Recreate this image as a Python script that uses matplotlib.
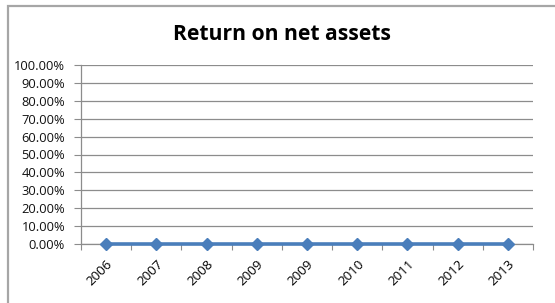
import matplotlib
matplotlib.use("Agg")
import matplotlib.pyplot as plt
from matplotlib.ticker import FixedLocator, PercentFormatter
from matplotlib.patches import Rectangle
from matplotlib.transforms import ScaledTranslation

categories = ["2006", "2007", "2008", "2009", "2009", "2010", "2011", "2012", "2013"]
values = [0.0, 0.0, 0.0, 0.0, 0.0, 0.0, 0.0, 0.0, 0.0]
y_ticks = [0.0, 0.1, 0.2, 0.3, 0.4, 0.5, 0.6, 0.7, 0.8, 0.9, 1.0]
title = "Return on net assets"

W, H = 555, 303
fig = plt.figure(figsize=(W / 100, H / 100), dpi=100)
fig.patch.set_facecolor("white")

# outer chart frame
fig.patches.append(Rectangle((7.5 / W, -0.1), 1.2, (H - 5.5) / H + 0.1,
                             transform=fig.transFigure, fill=False,
                             edgecolor="#a6a6a6", linewidth=1.6))

left, right, top, bottom = 81, 533, 65, 244
ax = fig.add_axes([left / W, 1 - bottom / H, (right - left) / W, (bottom - top) / H])

x = list(range(len(categories)))
ax.plot(x, values, color="#4A7EBB", linewidth=2.6, marker="D", markersize=6.5,
        markerfacecolor="#4A7EBB", markeredgecolor="#4A7EBB", zorder=5, clip_on=False)

ax.set_xlim(-0.5, len(categories) - 0.5)
ax.set_ylim(0, 1.0)
ax.set_yticks(y_ticks)
ax.yaxis.set_major_formatter(PercentFormatter(1.0, decimals=2))
ax.grid(axis="y", color="#8c8c8c", linewidth=0.9)
ax.set_axisbelow(True)

ax.xaxis.set_major_locator(FixedLocator([i - 0.5 for i in range(len(categories) + 1)]))
ax.set_xticklabels([])
ax.xaxis.set_minor_locator(FixedLocator(x))
ax.set_xticklabels(categories, minor=True, rotation=45, ha="right",
                   rotation_mode="anchor", fontsize=9.6, family="Open Sans")
shift = ScaledTranslation(-3 / 100, 0, fig.dpi_scale_trans)
for lab in ax.get_xticklabels(minor=True):
    lab.set_transform(lab.get_transform() + shift)
ax.tick_params(axis="x", which="minor", length=0, pad=10)
ax.tick_params(axis="x", which="major", length=4, color="#8c8c8c", direction="out")
ax.tick_params(axis="y", length=5, color="#8c8c8c", direction="out", pad=6.5)
for lab in ax.get_yticklabels():
    lab.set_fontsize(9.3)
    lab.set_family("Open Sans")
    lab.set_color("#111111")

for s in ["top", "right"]:
    ax.spines[s].set_visible(False)
for s in ["left", "bottom"]:
    ax.spines[s].set_color("#8c8c8c")
    ax.spines[s].set_linewidth(0.9)

fig.text(282 / W, 1 - 35 / H, title, ha="center", va="center",
         fontsize=15.2, fontweight="bold", family="Open Sans")

fig.savefig("out.png", dpi=100)
